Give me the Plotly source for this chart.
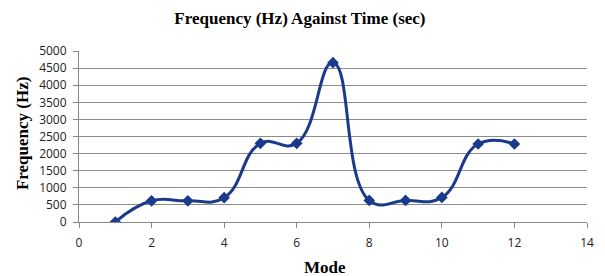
import plotly.graph_objects as go

modes = [1, 2, 3, 4, 5, 6, 7, 8, 9, 10, 11, 12]
frequency = [0, 620, 620, 710, 2300, 2300, 4660, 630, 630, 720, 2280, 2280]
x_ticks = [0, 2, 4, 6, 8, 10, 12, 14]
y_ticks = [0, 500, 1000, 1500, 2000, 2500, 3000, 3500, 4000, 4500, 5000]

color = "#1b3a8c"
serif = "Liberation Serif"

fig = go.Figure()
fig.add_trace(go.Scatter(
    x=modes, y=frequency, mode="lines+markers",
    line=dict(color=color, width=3, shape="spline", smoothing=1.3),
    marker=dict(symbol="diamond", size=9, color=color),
    showlegend=False,
))

fig.update_layout(
    width=597, height=268,
    margin=dict(l=71, r=11, t=43, b=54),
    paper_bgcolor="white", plot_bgcolor="white",
    title=dict(text="<b>Frequency (Hz) Against Time (sec)</b>",
               font=dict(family=serif, size=17, color="black"),
               x=0.489, xanchor="center", y=0.963, yanchor="middle"),
    xaxis=dict(range=[0, 14], tickvals=x_ticks, showgrid=False,
               showline=True, linecolor="#888", linewidth=1,
               ticks="outside", ticklen=5, tickcolor="#888",
               ticklabelstandoff=5,
               tickfont=dict(family="Open Sans", size=12, color="#222"),
               zeroline=False),
    yaxis=dict(range=[0, 5000], tickvals=y_ticks, showgrid=True,
               gridcolor="#8c8c8c", gridwidth=1,
               showline=True, linecolor="#888", linewidth=1,
               ticks="outside", ticklen=5, tickcolor="#888",
               ticklabelstandoff=4,
               tickfont=dict(family="Open Sans", size=12, color="#222"),
               zeroline=False),
    annotations=[
        dict(text="<b>Mode</b>", xref="paper", yref="paper", x=0.485, y=-0.269,
             xanchor="center", yanchor="middle", showarrow=False,
             font=dict(family=serif, size=17, color="black")),
        dict(text="<b>Frequency (Hz)</b>", xref="paper", yref="paper", x=-0.11, y=0.515,
             xanchor="center", yanchor="middle", showarrow=False, textangle=-90,
             font=dict(family=serif, size=17, color="black")),
    ],
)

fig.write_html("out.html")
